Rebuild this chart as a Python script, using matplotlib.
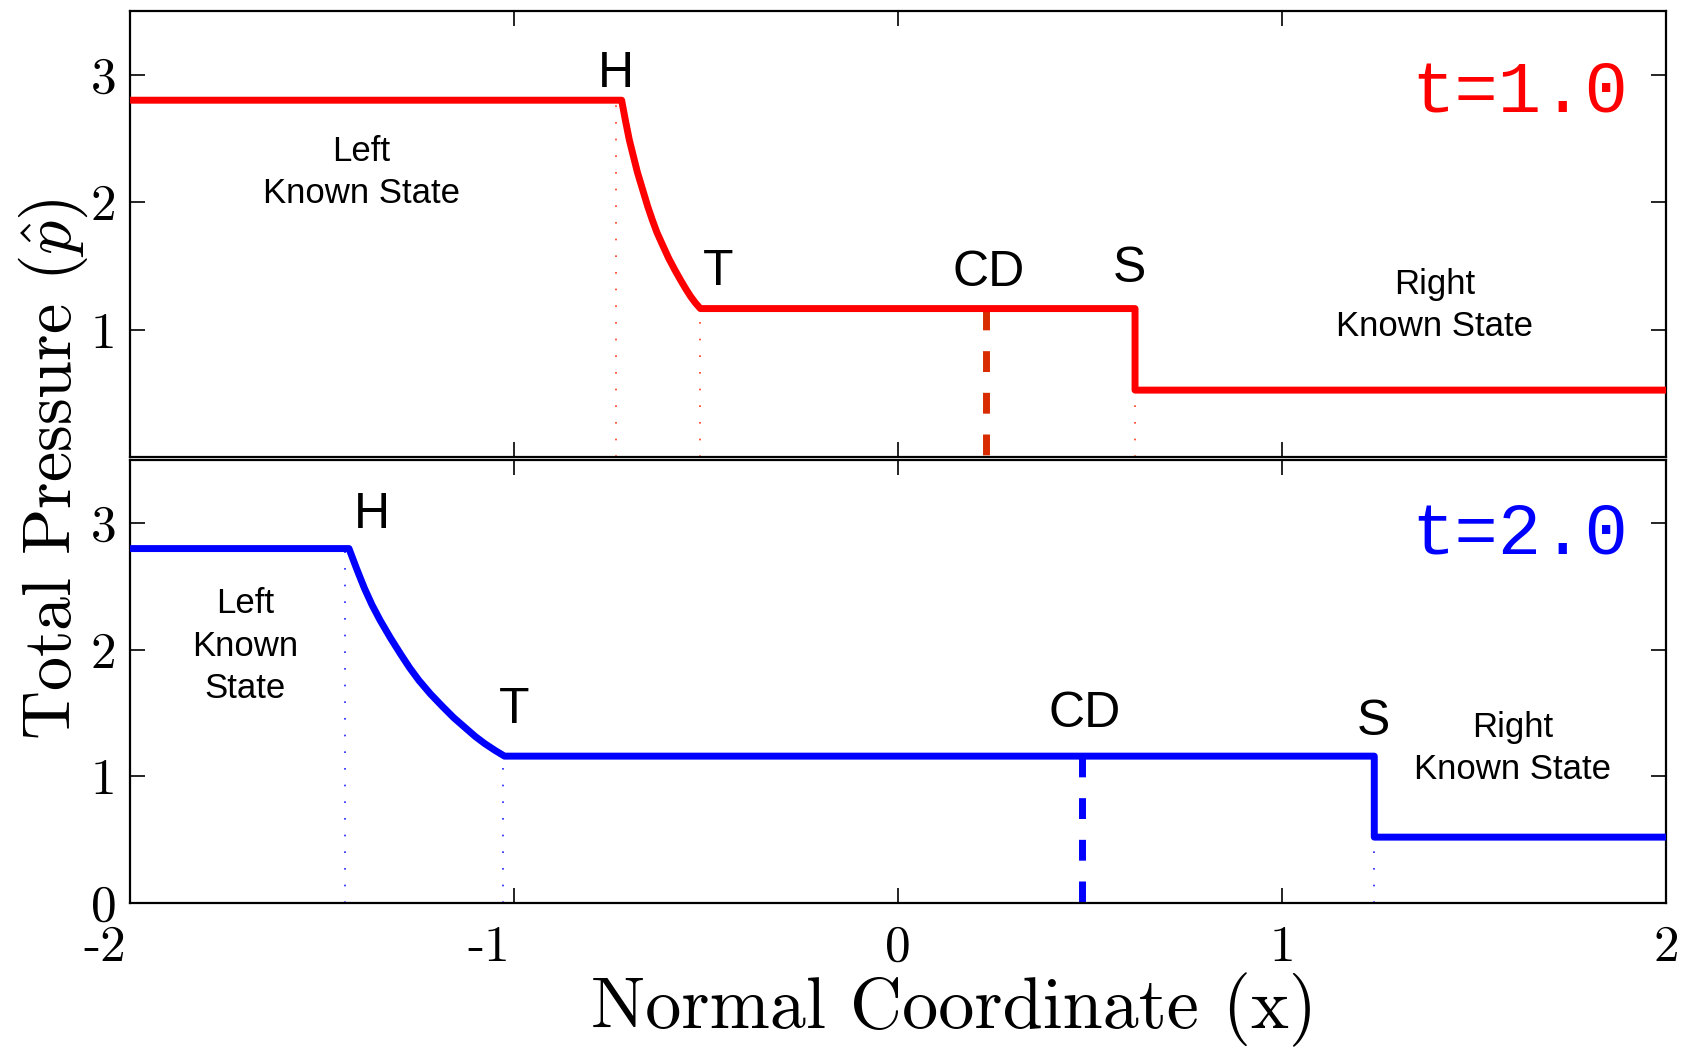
import matplotlib
matplotlib.use("Agg")
import matplotlib.pyplot as plt
from matplotlib.transforms import ScaledTranslation

plt.rcParams["mathtext.fontset"] = "cm"
plt.rcParams["axes.unicode_minus"] = False

# ---- data ----
# panel t = 1.0
p_left_1 = 2.80
p_star_1 = 1.165
p_right_1 = 0.525
fan_x_1 = [-0.720, -0.710, -0.700, -0.689, -0.679, -0.665, -0.652, -0.640, -0.628,
           -0.612, -0.597, -0.581, -0.566, -0.553, -0.541, -0.528, -0.515]
fan_p_1 = [2.800, 2.640, 2.489, 2.356, 2.236, 2.096, 1.966, 1.860, 1.762,
           1.655, 1.557, 1.466, 1.386, 1.320, 1.263, 1.210, 1.165]
cd_1 = 0.228
shock_1 = 0.617
marks_x_1 = [-0.735, -0.515, 0.617]        # H, T, S dotted guides
marks_p_1 = [p_left_1, p_star_1, p_right_1]

# panel t = 2.0
p_left_2 = 2.80
p_star_2 = 1.16
p_right_2 = 0.52
fan_x_2 = [-1.430, -1.410, -1.390, -1.370, -1.349, -1.322, -1.295, -1.272, -1.248,
           -1.218, -1.187, -1.157, -1.126, -1.101, -1.076, -1.050, -1.025]
fan_p_2 = [2.800, 2.640, 2.488, 2.355, 2.234, 2.094, 1.964, 1.858, 1.759,
           1.652, 1.554, 1.463, 1.381, 1.315, 1.258, 1.206, 1.160]
cd_2 = 0.478
shock_2 = 1.24
marks_x_2 = [-1.44, -1.03, 1.24]
marks_p_2 = [p_left_2, p_star_2, p_right_2]

# wave labels (x, baseline y)
wave_names = ["H", "T", "CD", "S"]
wave_lx_1 = [-0.734, -0.469, 0.236, 0.603]
wave_ly_1 = [2.90, 1.35, 1.345, 1.375]
wave_lx_2 = [-1.37, -1.00, 0.487, 1.237]
wave_ly_2 = [2.96, 1.42, 1.39, 1.33]

xticks = [-2, -1, 0, 1, 2]
xtick_labels = ["-2", "-1", "0", "1", "2"]

fig = plt.figure(figsize=(16.85, 10.48), dpi=100)
ax_top = fig.add_axes([0.0772, 0.5639, 0.9116, 0.4256])
ax_bot = fig.add_axes([0.0772, 0.1384, 0.9116, 0.4227])

LW = 5.0
SANS = "Liberation Sans"


def draw_panel(ax, p_l, p_s, p_r, fx, fp, cd, shock, mx, mp,
               line_c, dot_c, cd_c):
    xs = [-2.0] + fx + [shock, shock, 2.0]
    ps = [p_l] + fp + [p_s, p_r, p_r]
    for x, p in zip(mx, mp):
        ax.plot([x, x], [0, p], color=dot_c, lw=1.2,
                linestyle=(0, (1, 9)), zorder=1)
    ax.plot([cd, cd], [p_s, 0], color=cd_c, lw=LW,
            linestyle=(0, (3.0, 3.0)), zorder=2)
    ax.plot(xs, ps, color=line_c, lw=LW, solid_joinstyle="round",
            solid_capstyle="butt", zorder=3)


draw_panel(ax_top, p_left_1, p_star_1, p_right_1, fan_x_1, fan_p_1,
           cd_1, shock_1, marks_x_1, marks_p_1, "#FF0000", "#FF3A1A", "#D92B00")
draw_panel(ax_bot, p_left_2, p_star_2, p_right_2, fan_x_2, fan_p_2,
           cd_2, shock_2, marks_x_2, marks_p_2, "#0000FF", "#2020FF", "#0000FF")

for name, x, y in zip(wave_names, wave_lx_1, wave_ly_1):
    ax_top.text(x, y, name, ha="center", va="baseline", fontsize=36, family=SANS)
for name, x, y in zip(wave_names, wave_lx_2, wave_ly_2):
    ax_bot.text(x, y, name, ha="center", va="baseline", fontsize=36, family=SANS)

state_kw = dict(ha="center", va="center", fontsize=25, family=SANS, linespacing=1.35)
ax_top.text(-1.398, 2.23, "Left\nKnown State", **state_kw)
ax_top.text(1.398, 1.19, "Right\nKnown State", **state_kw)
ax_bot.text(-1.70, 2.03, "Left\nKnown\nState", **state_kw)
ax_bot.text(1.60, 1.22, "Right\nKnown State", **state_kw)

ax_top.text(1.90, 2.71, "t=1.0", color="#FF0000", ha="right", va="baseline",
            fontsize=52, family="Liberation Mono")
ax_bot.text(1.90, 2.76, "t=2.0", color="#0000FF", ha="right", va="baseline",
            fontsize=52, family="Liberation Mono")

for ax in (ax_top, ax_bot):
    ax.set_xlim(-2, 2)
    ax.set_ylim(0, 3.5)
    ax.set_xticks(xticks)
    ax.tick_params(direction="in", length=11, width=1.2, top=True, right=True,
                   labelsize=37, pad=10)
    for sp in ax.spines.values():
        sp.set_linewidth(1.6)

ax_top.set_yticks([1, 2, 3])
ax_top.set_yticklabels(["1", "2", "3"], family="cmr10")
ax_top.set_xticklabels([])

ax_bot.set_yticks([0, 1, 2, 3])
ax_bot.set_yticklabels(["0", "1", "2", "3"], family="cmr10")
ax_bot.set_xticklabels(xtick_labels, family="cmr10")
ax_bot.tick_params(axis="x", pad=16)
# negative labels hang their minus sign off to the left
for lab, txt in zip(ax_bot.get_xticklabels(), xtick_labels):
    if txt.startswith("-"):
        lab.set_horizontalalignment("right")
        lab.set_transform(lab.get_transform() + ScaledTranslation(-0.04, 0, fig.dpi_scale_trans))

fig.text(17 / 1685, 0.552, r"Total Pressure ($\hat{p}$)", rotation=90,
         ha="left", va="center", fontsize=49, family="cmr10")
fig.text(0.566, 1 - 1028 / 1048, "Normal Coordinate (x)", ha="center",
         va="baseline", fontsize=52, family="cmr10")

fig.savefig("out.png", dpi=100)
